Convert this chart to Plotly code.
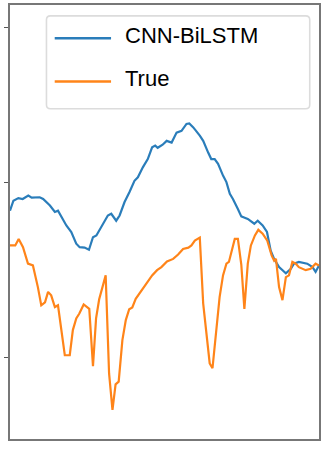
import plotly.graph_objects as go

# ---- data (time step, normalised value) ----
pred_t = [0, 1.1, 2.7, 4.1, 5.9, 7.0, 9.6, 10.7, 12.9, 14.5, 15.5, 16.6, 18.2, 19.8, 21.4, 22.5,
          24.1, 25.5, 26.8, 27.9, 29.5, 31.6, 32.7, 34.3, 35.4, 37.0, 38.6, 40.2, 41.3, 42.9, 44.5,
          45.9, 46.9, 47.7, 49.3, 50.6, 52.2, 53.8, 55.4, 57.0, 57.9, 59.2, 61.3, 62.4, 64.0, 65.0,
          66.1, 67.2, 68.8, 69.9, 71.0, 72.0, 73.6, 74.7, 75.8, 76.8, 78.9, 80.0, 81.6, 83.0, 84.2,
          85.3, 86.9, 89.1, 90.7, 91.7, 93.3, 96.0, 97.7, 98.7, 99.8]
pred_v = [0.526, 0.549, 0.555, 0.553, 0.561, 0.556, 0.557, 0.553, 0.538, 0.523, 0.526, 0.511, 0.492,
          0.477, 0.450, 0.442, 0.441, 0.436, 0.465, 0.469, 0.488, 0.515, 0.519, 0.503, 0.515, 0.546,
          0.569, 0.595, 0.603, 0.626, 0.645, 0.672, 0.676, 0.671, 0.678, 0.687, 0.683, 0.706, 0.710,
          0.726, 0.727, 0.718, 0.699, 0.687, 0.660, 0.645, 0.645, 0.634, 0.607, 0.592, 0.565, 0.553,
          0.530, 0.513, 0.510, 0.507, 0.496, 0.503, 0.492, 0.477, 0.434, 0.415, 0.396, 0.382, 0.392,
          0.404, 0.408, 0.404, 0.396, 0.385, 0.400]

true_t = [0, 1.7, 2.8, 4.2, 5.8, 7.4, 9.0, 10.1, 11.3, 12.3, 13.3, 14.5, 15.5, 16.5, 17.7, 19.3,
          20.3, 21.4, 22.4, 23.8, 25.6, 26.8, 27.8, 28.8, 30.3, 30.9, 32.0, 33.1, 34.1, 35.1, 36.3,
          37.4, 38.5, 39.5, 40.6, 42.1, 43.2, 44.8, 45.9, 47.5, 48.9, 50.7, 52.7, 54.3, 55.9, 57.6,
          58.6, 59.7, 61.3, 62.4, 63.5, 64.5, 65.4, 66.7, 67.7, 68.8, 69.9, 70.7, 71.5, 72.6, 73.6,
          74.7, 75.7, 76.8, 77.8, 79.1, 80.2, 81.6, 83.1, 84.5, 85.3, 85.9, 86.9, 88.0, 89.1, 90.1,
          91.2, 92.3, 93.3, 94.4, 95.5, 97.1, 98.7, 99.8]
true_v = [0.446, 0.446, 0.461, 0.442, 0.404, 0.400, 0.350, 0.308, 0.315, 0.339, 0.331, 0.304, 0.308,
          0.258, 0.193, 0.193, 0.251, 0.278, 0.289, 0.310, 0.300, 0.168, 0.278, 0.322, 0.362, 0.377,
          0.151, 0.067, 0.126, 0.132, 0.228, 0.274, 0.299, 0.303, 0.323, 0.339, 0.350, 0.366, 0.377,
          0.389, 0.396, 0.409, 0.415, 0.425, 0.438, 0.441, 0.446, 0.457, 0.464, 0.312, 0.239, 0.174,
          0.163, 0.258, 0.327, 0.377, 0.404, 0.408, 0.431, 0.461, 0.461, 0.402, 0.300, 0.404, 0.446,
          0.469, 0.482, 0.473, 0.457, 0.423, 0.411, 0.415, 0.350, 0.320, 0.373, 0.377, 0.408, 0.404,
          0.396, 0.392, 0.389, 0.392, 0.404, 0.400]

y_ticks = [0.1885, 0.5908, 0.9471]
series_names = ["CNN-BiLSTM", "True"]
series_colors = ["#2a7dba", "#ff8419"]

fig = go.Figure()
fig.add_trace(go.Scatter(x=pred_t, y=pred_v, mode="lines", name=series_names[0],
                         line=dict(color=series_colors[0], width=2.2), showlegend=False))
fig.add_trace(go.Scatter(x=true_t, y=true_v, mode="lines", name=series_names[1],
                         line=dict(color=series_colors[1], width=2.2), showlegend=False))

# ---- legend drawn by hand (box, samples, labels) ----
x0, x1, y0, y1 = 0.118, 0.970, 0.761, 0.975
rx, ry = 0.013, 0.0092
path = (f"M{x0+rx},{y0} L{x1-rx},{y0} Q{x1},{y0} {x1},{y0+ry} L{x1},{y1-ry} Q{x1},{y1} {x1-rx},{y1} "
        f"L{x0+rx},{y1} Q{x0},{y1} {x0},{y1-ry} L{x0},{y0+ry} Q{x0},{y0} {x0+rx},{y0} Z")
shapes = [dict(type="path", xref="paper", yref="paper", path=path,
               line=dict(color="#dcdcdc", width=1.6), fillcolor="rgba(255,255,255,0.8)")]
annotations = []
for name, col, yy in zip(series_names, series_colors, [0.9234, 0.8238]):
    shapes.append(dict(type="line", xref="paper", yref="paper", x0=0.1447, x1=0.327, y0=yy, y1=yy,
                       line=dict(color=col, width=2.4)))
    annotations.append(dict(xref="paper", yref="paper", x=0.3643, y=yy, yshift=2.5, text=name,
                            showarrow=False, xanchor="left", yanchor="middle",
                            font=dict(family="Liberation Sans, Arial", size=22, color="#000000")))

fig.update_layout(
    width=324, height=449,
    margin=dict(l=10, r=3, t=4, b=10),
    paper_bgcolor="white", plot_bgcolor="white",
    shapes=shapes, annotations=annotations,
    showlegend=False,
)
fig.update_xaxes(range=[0, 99.8], showgrid=False, zeroline=False, showticklabels=False, ticks="",
                 showline=True, mirror=True, linecolor="#777777", linewidth=1.5)
fig.update_yaxes(range=[0, 1], showgrid=False, zeroline=False, showticklabels=False,
                 tickvals=y_ticks, ticks="outside", ticklen=4, tickwidth=1, tickcolor="#555555",
                 showline=True, mirror=True, linecolor="#777777", linewidth=1.5)

fig.write_html("out.html", config={"displayModeBar": False},
               post_script="document.body.style.margin='0';")
